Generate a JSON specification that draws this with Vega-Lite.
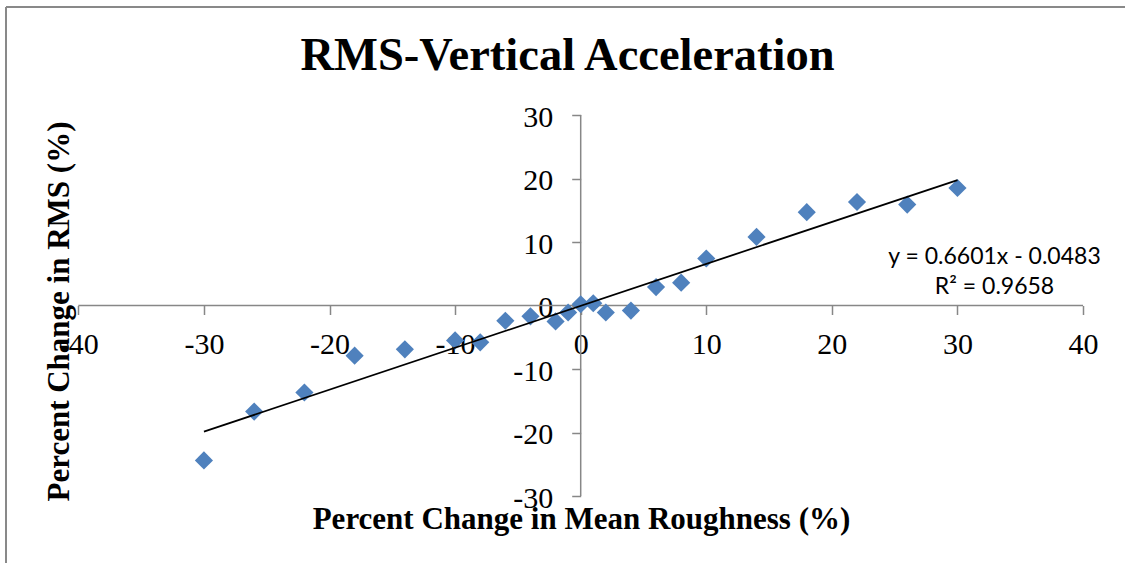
{
  "$schema": "https://vega.github.io/schema/vega-lite/v6.json",
  "width": 1119,
  "height": 556,
  "padding": {"left": 6, "top": 7, "right": 0, "bottom": 0},
  "autosize": {"type": "none"},
  "background": "white",
  "title": {
    "text": "RMS-Vertical Acceleration",
    "font": "Liberation Serif",
    "fontSize": 46.5,
    "fontWeight": "bold",
    "color": "black",
    "anchor": "middle",
    "frame": "group",
    "orient": "top",
    "baseline": "alphabetic",
    "offset": -110,
    "dx": 2
  },
  "datasets": {
    "points": [
      {"x": -30, "y": -24.4},
      {"x": -26, "y": -16.7},
      {"x": -22, "y": -13.7},
      {"x": -18, "y": -7.9},
      {"x": -14, "y": -6.9},
      {"x": -10, "y": -5.5},
      {"x": -8, "y": -5.8},
      {"x": -6, "y": -2.4},
      {"x": -4, "y": -1.7},
      {"x": -2, "y": -2.5},
      {"x": -1, "y": -1.1},
      {"x": 0, "y": 0.2},
      {"x": 1, "y": 0.35},
      {"x": 2, "y": -1.1},
      {"x": 4, "y": -0.8},
      {"x": 6, "y": 2.9},
      {"x": 8, "y": 3.6},
      {"x": 10, "y": 7.4},
      {"x": 14, "y": 10.8},
      {"x": 18, "y": 14.7},
      {"x": 22, "y": 16.3},
      {"x": 26, "y": 15.9},
      {"x": 30, "y": 18.5}
    ],
    "trend": [
      {"x": -30, "y": -19.8513},
      {"x": 30, "y": 19.7547}
    ],
    "one": [{}]
  },
  "layer": [
    {
      "data": {"name": "one"},
      "mark": {"type": "rule", "color": "#898989", "strokeWidth": 2},
      "encoding": {
        "x": {"datum": -45.76, "type": "quantitative"},
        "y": {"datum": 47.01, "type": "quantitative"},
        "y2": {"datum": -40.55}
      }
    },
    {
      "data": {"name": "one"},
      "mark": {"type": "rule", "color": "#898989", "strokeWidth": 2},
      "encoding": {
        "x": {"datum": -45.76, "type": "quantitative"},
        "x2": {"datum": 43.34},
        "y": {"datum": 47.01, "type": "quantitative"}
      }
    },
    {
      "data": {"name": "one"},
      "mark": {"type": "rule", "color": "#878787", "strokeWidth": 1.5},
      "encoding": {
        "x": {"datum": -40, "type": "quantitative"},
        "x2": {"datum": 40},
        "y": {"datum": 0, "type": "quantitative"}
      }
    },
    {
      "data": {"name": "one"},
      "mark": {"type": "rule", "color": "#878787", "strokeWidth": 1.5},
      "encoding": {
        "y": {"datum": -30, "type": "quantitative"},
        "y2": {"datum": 30},
        "x": {"datum": 0, "type": "quantitative"}
      }
    },
    {
      "data": {"name": "points"},
      "mark": {"type": "point", "shape": "diamond", "filled": true, "size": 330, "color": "#4F81BD", "opacity": 1},
      "encoding": {
        "x": {
          "field": "x",
          "type": "quantitative",
          "scale": {"domain": [-45.76, 43.34], "nice": false, "zero": false},
          "axis": {
            "values": [-40, -30, -20, -10, 0, 10, 20, 30, 40],
            "labelExpr": "datum.value + ''",
            "offset": -257.5,
            "domain": false,
            "grid": false,
            "ticks": true,
            "tickSize": 9,
            "tickColor": "#878787",
            "tickWidth": 1.5,
            "labelFont": "Liberation Serif",
            "labelFontSize": 30,
            "labelColor": "black",
            "labelPadding": 15,
            "labelFlush": false,
            "labelOverlap": false,
            "labelBound": false,
            "title": "Percent Change in Mean Roughness (%)",
            "titleFont": "Liberation Serif",
            "titleFontSize": 31,
            "titleFontWeight": "bold",
            "titleColor": "black",
            "titleX": 575,
            "titleY": 222.5,
            "titleBaseline": "alphabetic",
            "titleAlign": "center"
          }
        },
        "y": {
          "field": "y",
          "type": "quantitative",
          "scale": {"domain": [-40.55, 47.01], "nice": false, "zero": false},
          "axis": {
            "values": [-30, -20, -10, 0, 10, 20, 30],
            "labelExpr": "datum.value + ''",
            "offset": -574.7,
            "domain": false,
            "grid": false,
            "ticks": true,
            "tickSize": 9,
            "tickColor": "#878787",
            "tickWidth": 1.5,
            "labelFont": "Liberation Serif",
            "labelFontSize": 30,
            "labelColor": "black",
            "labelPadding": 19,
            "labelBaseline": "alphabetic",
            "labelOffset": 11,
            "labelFlush": false,
            "labelOverlap": false,
            "labelBound": false,
            "title": "Percent Change in RMS (%)",
            "titleFont": "Liberation Serif",
            "titleFontSize": 31,
            "titleFontWeight": "bold",
            "titleColor": "black",
            "titleX": -512.7,
            "titleY": 304,
            "titleAngle": 270,
            "titleBaseline": "alphabetic",
            "titleAlign": "center"
          }
        }
      }
    },
    {
      "data": {"name": "trend"},
      "mark": {"type": "line", "color": "black", "strokeWidth": 1.8},
      "encoding": {
        "x": {"field": "x", "type": "quantitative"},
        "y": {"field": "y", "type": "quantitative"}
      }
    },
    {
      "data": {"name": "one"},
      "mark": {"type": "text", "text": "y = 0.6601x - 0.0483", "font": "Lato", "fontSize": 23, "color": "black", "align": "center", "baseline": "alphabetic"},
      "encoding": {
        "x": {"datum": 32.95, "type": "quantitative"},
        "y": {"datum": 6.49, "type": "quantitative"}
      }
    },
    {
      "data": {"name": "one"},
      "mark": {"type": "text", "text": "R² = 0.9658", "font": "Lato", "fontSize": 23, "color": "black", "align": "center", "baseline": "alphabetic"},
      "encoding": {
        "x": {"datum": 32.95, "type": "quantitative"},
        "y": {"datum": 1.76, "type": "quantitative"}
      }
    }
  ],
  "config": {
    "view": {"stroke": null}
  }
}
